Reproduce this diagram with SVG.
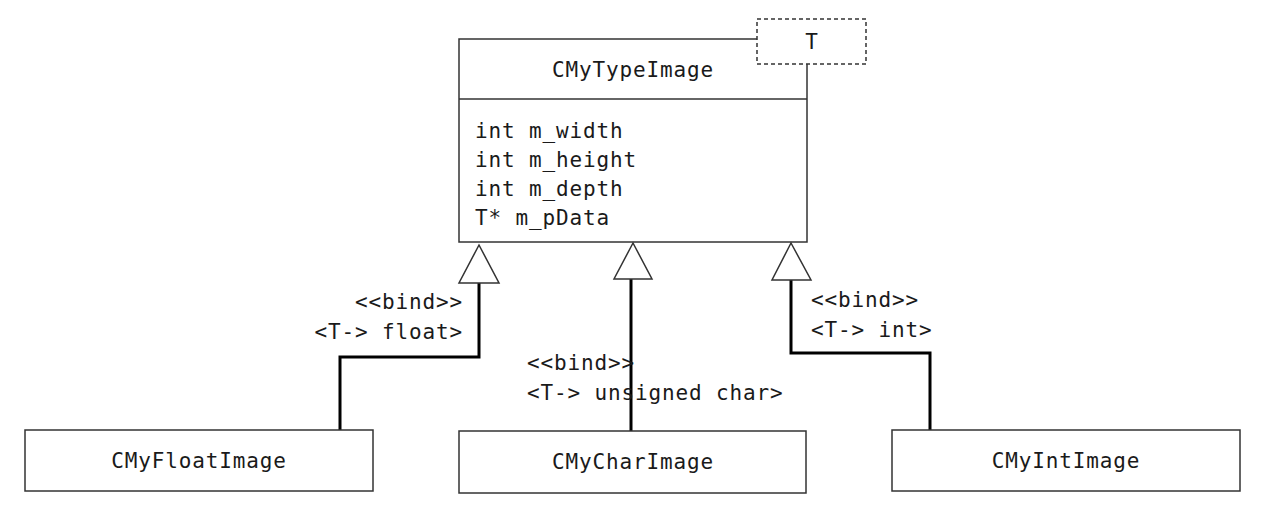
<svg xmlns="http://www.w3.org/2000/svg" width="1265" height="508" viewBox="0 0 1265 508">
<style>
.box{fill:#fff;stroke:#333;stroke-width:1.5}
.dash{fill:#fff;stroke:#333;stroke-width:1.5;stroke-dasharray:4 3}
.t{font-family:"DejaVu Sans Mono","Liberation Mono",monospace;font-size:21px;letter-spacing:0.85px;fill:#1a1a1a}
.c{text-anchor:middle}
.r{text-anchor:end}
.conn{fill:none;stroke:#000;stroke-width:3}
.tri{fill:#fff;stroke:#333;stroke-width:1.5}
</style>
<rect width="1265" height="508" fill="#fff"/>
<g id="CMyTypeImage">
<rect class="box" x="459" y="39" width="348" height="203"/>
<line class="box" x1="459" y1="99" x2="807" y2="99"/>
<text class="t c" x="633" y="77">CMyTypeImage</text>
<text class="t" x="475" y="138">int m_width</text>
<text class="t" x="475" y="167">int m_height</text>
<text class="t" x="475" y="196">int m_depth</text>
<text class="t" x="475" y="225">T* m_pData</text>
<rect class="dash" x="757" y="19" width="109" height="45"/>
<text class="t c" x="812" y="49">T</text>
</g>
<g id="connectors">
<polyline class="conn" points="479,283 479,357 340,357 340,430"/>
<polyline class="conn" points="631,279 631,431"/>
<polyline class="conn" points="791,280 791,353 930,353 930,430"/>
<polygon class="tri" points="479,245 459,283 499,283"/>
<polygon class="tri" points="633,243 614,279 652,279"/>
<polygon class="tri" points="791,243 772,280 811,280"/>
<text class="t r" x="463" y="309">&lt;&lt;bind&gt;&gt;</text>
<text class="t r" x="463" y="339">&lt;T-&gt; float&gt;</text>
<text class="t" x="527" y="370">&lt;&lt;bind&gt;&gt;</text>
<text class="t" x="527" y="400">&lt;T-&gt; unsigned char&gt;</text>
<text class="t" x="811" y="307">&lt;&lt;bind&gt;&gt;</text>
<text class="t" x="811" y="337">&lt;T-&gt; int&gt;</text>
</g>
<g id="CMyFloatImage">
<rect class="box" x="25" y="430" width="348" height="61"/>
<text class="t c" x="199" y="468">CMyFloatImage</text>
</g>
<g id="CMyCharImage">
<rect class="box" x="459" y="431" width="347" height="62"/>
<text class="t c" x="633" y="469">CMyCharImage</text>
</g>
<g id="CMyIntImage">
<rect class="box" x="892" y="430" width="348" height="61"/>
<text class="t c" x="1066" y="468">CMyIntImage</text>
</g>
</svg>
